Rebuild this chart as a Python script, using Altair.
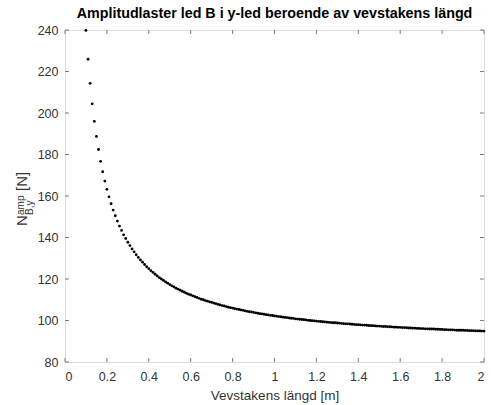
import altair as alt
import pandas as pd

# Crank length samples [m] and the amplitude load in joint B, y-direction [N]
lengths = [round(0.10 + 0.01 * i, 2) for i in range(191)]
loads = [
    239.8, 225.9, 214.3, 204.4, 196.0, 188.7, 182.4, 176.7, 171.7, 167.2,
    163.2, 159.6, 156.3, 153.2, 150.5, 147.9, 145.5, 143.4, 141.3, 139.5,
    137.7, 136.1, 134.5, 133.1, 131.7, 130.4, 129.2, 128.1, 127.0, 125.9,
    125.0, 124.0, 123.2, 122.3, 121.5, 120.7, 120.0, 119.3, 118.6, 118.0,
    117.3, 116.7, 116.2, 115.6, 115.1, 114.6, 114.1, 113.6, 113.1, 112.7,
    112.3, 111.9, 111.5, 111.1, 110.7, 110.3, 110.0, 109.6, 109.3, 109.0,
    108.7, 108.4, 108.1, 107.8, 107.5, 107.2, 107.0, 106.7, 106.4, 106.2,
    106.0, 105.7, 105.5, 105.3, 105.1, 104.9, 104.6, 104.4, 104.2, 104.1,
    103.9, 103.7, 103.5, 103.3, 103.2, 103.0, 102.8, 102.7, 102.5, 102.4,
    102.2, 102.1, 101.9, 101.8, 101.6, 101.5, 101.4, 101.2, 101.1, 101.0,
    100.8, 100.7, 100.6, 100.5, 100.4, 100.3, 100.1, 100.0, 99.9, 99.8,
    99.7, 99.6, 99.5, 99.4, 99.3, 99.2, 99.1, 99.0, 98.9, 98.9,
    98.8, 98.7, 98.6, 98.5, 98.4, 98.4, 98.3, 98.2, 98.1, 98.0,
    98.0, 97.9, 97.8, 97.8, 97.7, 97.6, 97.5, 97.5, 97.4, 97.3,
    97.3, 97.2, 97.1, 97.1, 97.0, 97.0, 96.9, 96.8, 96.8, 96.7,
    96.7, 96.6, 96.6, 96.5, 96.4, 96.4, 96.3, 96.3, 96.2, 96.2,
    96.1, 96.1, 96.0, 96.0, 95.9, 95.9, 95.9, 95.8, 95.8, 95.7,
    95.7, 95.6, 95.6, 95.5, 95.5, 95.5, 95.4, 95.3, 95.3, 95.3,
    95.3, 95.2, 95.2, 95.1, 95.1, 95.1, 95.0, 95.0, 95.0, 94.9,
    94.9,
]

x_ticks = [0, 0.2, 0.4, 0.6, 0.8, 1.0, 1.2, 1.4, 1.6, 1.8, 2.0]
y_ticks = [80, 100, 120, 140, 160, 180, 200, 220, 240]

W, H = 419, 332
FONT = "Liberation Sans"
AXIS_COL = "#333333"
FRAME_COL = "#7a7a7a"
TICK_LEN = 4

df = pd.DataFrame({"x": lengths, "y": loads})
xt = pd.DataFrame({"x": x_ticks})
yt = pd.DataFrame({"y": y_ticks})

x_scale = alt.Scale(domain=[0, 2], nice=False, zero=False)
y_scale = alt.Scale(domain=[80, 240], nice=False, zero=False)

points = alt.Chart(df).mark_circle(size=8, color="black", opacity=1).encode(
    x=alt.X(
        "x:Q",
        scale=x_scale,
        axis=alt.Axis(
            values=x_ticks, format="~g", title="Vevstakens längd [m]",
            domain=False, ticks=False, tickSize=0, grid=False,
            labelPadding=8, labelFontSize=12.5, labelFont=FONT, labelColor=AXIS_COL,
            titleFontSize=13.5, titleFont=FONT, titleColor=AXIS_COL,
            titleFontWeight="normal", titlePadding=6,
        ),
    ),
    y=alt.Y(
        "y:Q",
        scale=y_scale,
        axis=alt.Axis(
            values=y_ticks, title="",
            domain=False, ticks=False, tickSize=0, grid=False,
            labelPadding=7, labelFontSize=12.5, labelFont=FONT, labelColor=AXIS_COL,
        ),
    ),
)

# inward tick marks on all four sides of the box
tick_bottom = alt.Chart(xt).mark_rule(color=FRAME_COL, strokeWidth=1).encode(
    x=alt.X("x:Q", scale=x_scale), y=alt.value(H), y2=alt.value(H - TICK_LEN))
tick_top = alt.Chart(xt).mark_rule(color=FRAME_COL, strokeWidth=1).encode(
    x=alt.X("x:Q", scale=x_scale), y=alt.value(0), y2=alt.value(TICK_LEN))
tick_left = alt.Chart(yt).mark_rule(color=FRAME_COL, strokeWidth=1).encode(
    y=alt.Y("y:Q", scale=y_scale), x=alt.value(0), x2=alt.value(TICK_LEN))
tick_right = alt.Chart(yt).mark_rule(color=FRAME_COL, strokeWidth=1).encode(
    y=alt.Y("y:Q", scale=y_scale), x=alt.value(W - TICK_LEN), x2=alt.value(W))


def label_piece(text, x, y, size):
    return alt.Chart(pd.DataFrame({"t": [text]})).mark_text(
        align="left", baseline="alphabetic",
        font=FONT, fontSize=size, color=AXIS_COL,
    ).encode(x=alt.value(x), y=alt.value(y), text="t:N", angle=alt.value(270))


# y-axis title: N with superscript "amp" and subscript "B,y", then the unit
ylab = [
    label_piece("N", -38, 196, 15),
    label_piece("amp", -41, 185, 10),
    label_piece("B,y", -32, 185, 10),
    label_piece("[N]", -38, 161, 15),
]

chart = alt.layer(points, tick_bottom, tick_top, tick_left, tick_right, *ylab).properties(
    width=W,
    height=H,
    title=alt.TitleParams(
        text="Amplitudlaster led B i y-led beroende av vevstakens längd",
        font=FONT, fontSize=14.3, fontWeight="bold", color="black",
        anchor="middle", offset=2.5,
    ),
    autosize=alt.AutoSizeParams(type="none"),
    padding={"left": 65, "top": 30, "right": 7, "bottom": 43},
).configure_view(stroke=FRAME_COL, strokeWidth=1).configure(background="white")

chart.save("out.html", embed_options={"renderer": "svg", "actions": False})
